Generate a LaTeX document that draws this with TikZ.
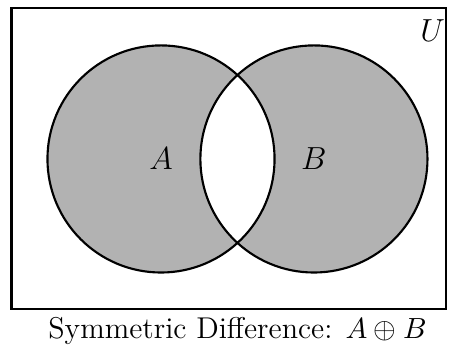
\documentclass[tikz,border=0pt]{standalone}
\usepackage{amsmath,amssymb}
\usepackage{tikz}
\usetikzlibrary{positioning}

\begin{document}
\begin{tikzpicture}[
  setline/.style={thick},
  shade/.style={fill=black!30,even odd rule},
  lbl/.style={font=\large},
  caplbl/.style={font=\fontsize{11.3pt}{13pt}\selectfont}]
  \useasboundingbox (-2.127,-2.52) rectangle (3.91,2.10);
  % universe and the two sets
  \draw[setline] (-1.975,-1.98) rectangle (3.77,2.0);
  \fill[shade] (0,0) circle (1.5) (2.02,0) circle (1.5);
  \draw[setline] (0,0) circle (1.5);
  \draw[setline] (2.02,0) circle (1.5);
  \node[lbl] (a) at (0,0) {$A$};
  \node[lbl] (b) at (2.02,0) {$B$};
  \node[lbl] (u) at (3.59,1.70) {$U$};
  % caption
  \node[caplbl] (cap) at (1.01,-2.27) {Symmetric Difference: $A \oplus B$};
\end{tikzpicture}
\end{document}
